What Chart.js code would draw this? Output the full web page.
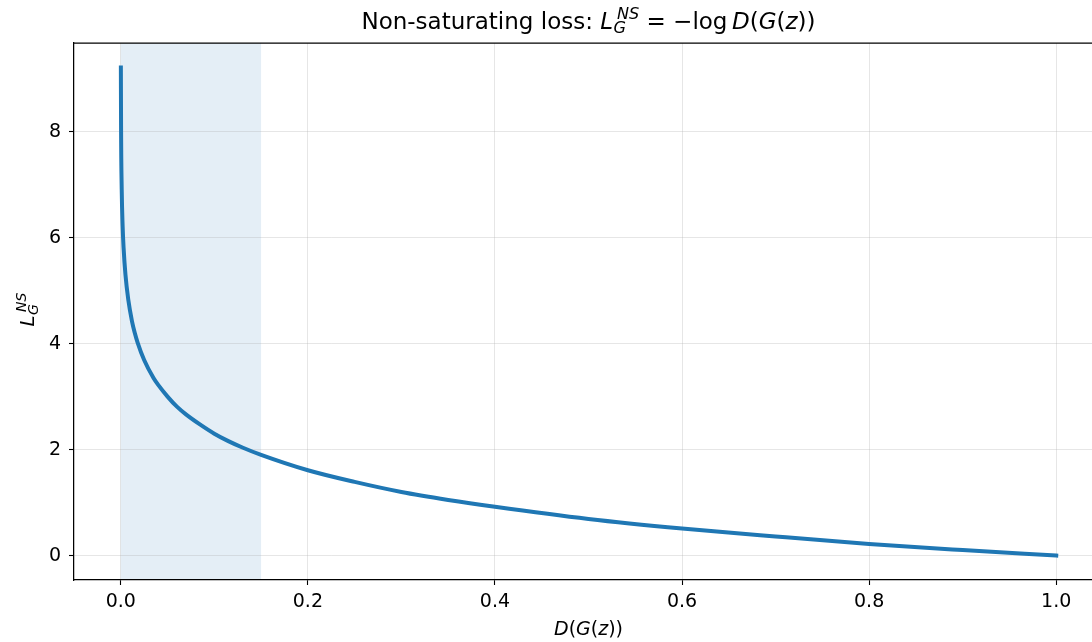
<!DOCTYPE html>
<html>
<head>
<meta charset="utf-8">
<script src="https://cdn.jsdelivr.net/npm/chart.js@4"></script>
<style>
  html, body { margin: 0; padding: 0; background: #fff; overflow: hidden; }
  #wrap { width: 1110px; height: 642px; }
</style>
</head>
<body>
<div id="wrap"><canvas id="c" width="1110" height="642"></canvas></div>
<script>
// Generator output D(G(z)) and the non-saturating loss at those points
const dgz = [0.0001, 0.0003, 0.001, 0.002, 0.003, 0.005, 0.008, 0.012, 0.015, 0.018,
             0.025, 0.035, 0.04, 0.05, 0.06, 0.07, 0.085, 0.1, 0.115, 0.13,
             0.15, 0.2, 0.25, 0.3, 0.35, 0.4, 0.5, 0.6, 0.7, 0.8,
             0.9, 1.0];
const lossNS = [9.21, 8.11, 6.91, 6.21, 5.81, 5.30, 4.83, 4.42, 4.20, 4.02,
                3.69, 3.35, 3.22, 3.00, 2.81, 2.66, 2.47, 2.30, 2.16, 2.04,
                1.90, 1.61, 1.39, 1.20, 1.05, 0.92, 0.69, 0.51, 0.36, 0.22,
                0.105, 0.0];
// Highlighted low-D(G(z)) band
const bandRange = [0.0, 0.15];
const xTicks = [0.0, 0.2, 0.4, 0.6, 0.8, 1.0];
const yTicks = [0, 2, 4, 6, 8];

const FONT = '"DejaVu Sans", sans-serif';

// Draw a sequence of text runs (italics, sub/superscripts) centred at cx, baseline y.
// A run marked `pair` is drawn at the same x as the next run; advance uses the wider one.
function drawRuns(ctx, runs, cx, y, size) {
  const fontFor = (r) => `${r.italic ? 'italic ' : ''}${(size * (r.scale || 1)).toFixed(1)}px ${FONT}`;
  const widths = runs.map(r => { ctx.font = fontFor(r); return ctx.measureText(r.t).width + (r.dx || 0) * size; });
  const adv = runs.map((r, i) => {
    if (r.pair) return 0;
    if (i > 0 && runs[i - 1].pair) return Math.max(widths[i], widths[i - 1]) + (r.gap || 0) * size;
    return widths[i] + (r.gap || 0) * size;
  });
  const total = adv.reduce((s, v) => s + v, 0);
  let x = cx - total / 2;
  runs.forEach((r, i) => {
    ctx.font = fontFor(r);
    ctx.fillText(r.t, x + (r.dx || 0) * size, y + (r.dy || 0) * size);
    x += adv[i];
  });
}

// L with subscript G and superscript NS
const lossSymbol = [
  { t: 'L', italic: true },
  { t: 'NS', italic: true, scale: 0.7, dy: -0.42, dx: 0.17, pair: true },
  { t: 'G', italic: true, scale: 0.7, dy: 0.2, dx: 0.02 }
];
const dgzRuns = [
  { t: 'D', italic: true },
  { t: '(' },
  { t: 'G', italic: true },
  { t: '(' },
  { t: 'z', italic: true },
  { t: '))' }
];

const extras = {
  id: 'extras',
  beforeDraw(chart) {
    const { ctx, chartArea: a, scales: { x } } = chart;
    ctx.save();
    ctx.fillStyle = '#ffffff';
    ctx.fillRect(0, 0, chart.width, chart.height);
    ctx.fillStyle = 'rgba(31,119,180,0.12)';
    const x0 = x.getPixelForValue(bandRange[0]);
    const x1 = x.getPixelForValue(bandRange[1]);
    ctx.fillRect(x0, a.top, x1 - x0, a.bottom - a.top);
    ctx.restore();
  },
  afterDraw(chart) {
    const { ctx, chartArea: a } = chart;
    ctx.save();
    // top spine
    ctx.strokeStyle = '#000';
    ctx.lineWidth = 1.25;
    ctx.beginPath();
    ctx.moveTo(a.left - 0.6, a.top);
    ctx.lineTo(a.right, a.top);
    ctx.stroke();

    ctx.fillStyle = '#000';
    ctx.textBaseline = 'alphabetic';
    ctx.textAlign = 'left';
    const cx = (a.left + a.right) / 2;

    // title
    drawRuns(ctx, [
      { t: 'Non-saturating loss: ' },
      ...lossSymbol,
      { t: ' = \u2212log\u2009' },
      ...dgzRuns
    ], cx, 28.5, 23);

    // x-axis label
    drawRuns(ctx, dgzRuns, cx, 635, 19);

    // y-axis label (rotated)
    ctx.translate(34, (a.top + a.bottom) / 2 - 2);
    ctx.rotate(-Math.PI / 2);
    drawRuns(ctx, lossSymbol, 0, 0, 20);
    ctx.restore();
  }
};

const points = dgz.map((v, i) => ({ x: v, y: lossNS[i] }));

new Chart(document.getElementById('c'), {
  type: 'line',
  data: {
    datasets: [{
      data: points,
      borderColor: '#1f77b4',
      borderWidth: 4,
      borderCapStyle: 'square',
      pointRadius: 0,
      cubicInterpolationMode: 'monotone',
      fill: false
    }]
  },
  options: {
    responsive: false,
    animation: false,
    devicePixelRatio: 1,
    layout: { padding: { top: 43, right: 7, bottom: 0, left: 0 } },
    plugins: { legend: { display: false }, tooltip: { enabled: false }, title: { display: false } },
    scales: {
      x: {
        type: 'linear',
        min: -0.05, max: 1.05,
        afterFit(s) { s.height = 62; },
        afterBuildTicks(s) { s.ticks = xTicks.map(v => ({ value: v })); },
        ticks: {
          color: '#000', font: { family: FONT, size: 19 }, padding: 6,
          maxRotation: 0, autoSkip: false,
          callback: v => Number(v).toFixed(1)
        },
        grid: { color: 'rgba(176,176,176,0.32)', lineWidth: 1, tickColor: '#000', tickLength: 5, tickWidth: 1.1 },
        border: { color: '#000', width: 1.25 }
      },
      y: {
        type: 'linear',
        min: -0.4605, max: 9.671,
        afterFit(s) { s.width = 74; },
        afterBuildTicks(s) { s.ticks = yTicks.map(v => ({ value: v })); },
        ticks: {
          color: '#000', font: { family: FONT, size: 19 }, padding: 8,
          autoSkip: false,
          callback: v => String(v)
        },
        grid: { color: 'rgba(176,176,176,0.32)', lineWidth: 1, tickColor: '#000', tickLength: 5, tickWidth: 1.1 },
        border: { color: '#000', width: 1.25 }
      }
    }
  },
  plugins: [extras]
});
</script>
</body>
</html>
